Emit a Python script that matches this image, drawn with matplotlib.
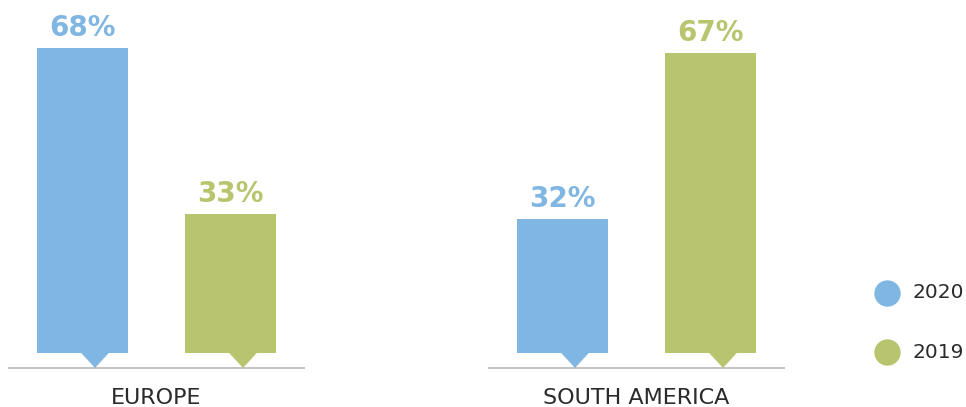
import matplotlib
matplotlib.use("Agg")
import matplotlib.pyplot as plt
from matplotlib.patches import Polygon

# data
regions = ["EUROPE", "SOUTH AMERICA"]
years = ["2020", "2019"]
values_2020 = [68, 32]
values_2019 = [33, 67]
colors = {"2020": "#80B6E2", "2019": "#B8C56E"}

# layout (pixel-like x units, percent y units)
W, H = 966, 407
px_per_pct = 4.75
zero_px = 371
group_centers = [156.5, 636.5]
bar_w = 91
bar_off = 74
bar_bottom = (zero_px - 353) / px_per_pct
tip_off = 12.5
tri_half = 14

fig = plt.figure(figsize=(W / 100, H / 100), dpi=100)
ax = fig.add_axes([0, 0, 1, 1])
ax.set_xlim(0, W)
ax.set_ylim(-(H - zero_px) / px_per_pct, zero_px / px_per_pct)
ax.axis("off")

series = [("2020", values_2020, -bar_off), ("2019", values_2019, bar_off)]
for i, c in enumerate(group_centers):
    # baseline
    ax.plot([c - 148.5, c + 148.5], [bar_bottom - 15 / px_per_pct] * 2,
            color="#BDBDBD", lw=1.3, solid_capstyle="butt", zorder=1)
    for year, vals, off in series:
        x = c + off
        v = vals[i]
        ax.bar(x, v - bar_bottom, bottom=bar_bottom, width=bar_w,
               color=colors[year], zorder=2)
        tx = x + tip_off
        ax.add_patch(Polygon([(tx - tri_half, bar_bottom + 0.05),
                              (tx + tri_half, bar_bottom + 0.05),
                              (tx, bar_bottom - 15 / px_per_pct)],
                             closed=True, color=colors[year], zorder=2, lw=0))
        ax.text(x, v + 12 / px_per_pct, f"{v}%", ha="center", va="baseline",
                fontsize=20, fontweight="bold", color=colors[year])
    ax.text(c, -(404 - zero_px) / px_per_pct, regions[i], ha="center",
            va="baseline", fontsize=16, color="#2b2b2b")

# legend
for j, year in enumerate(years):
    cy = -(293 + 59 * j - zero_px) / px_per_pct
    ax.scatter([887], [cy], s=360, color=colors[year], linewidths=0)
    ax.text(912, cy, year, ha="left", va="center", fontsize=14.5, color="#2b2b2b")

fig.savefig("out.png", dpi=100)
